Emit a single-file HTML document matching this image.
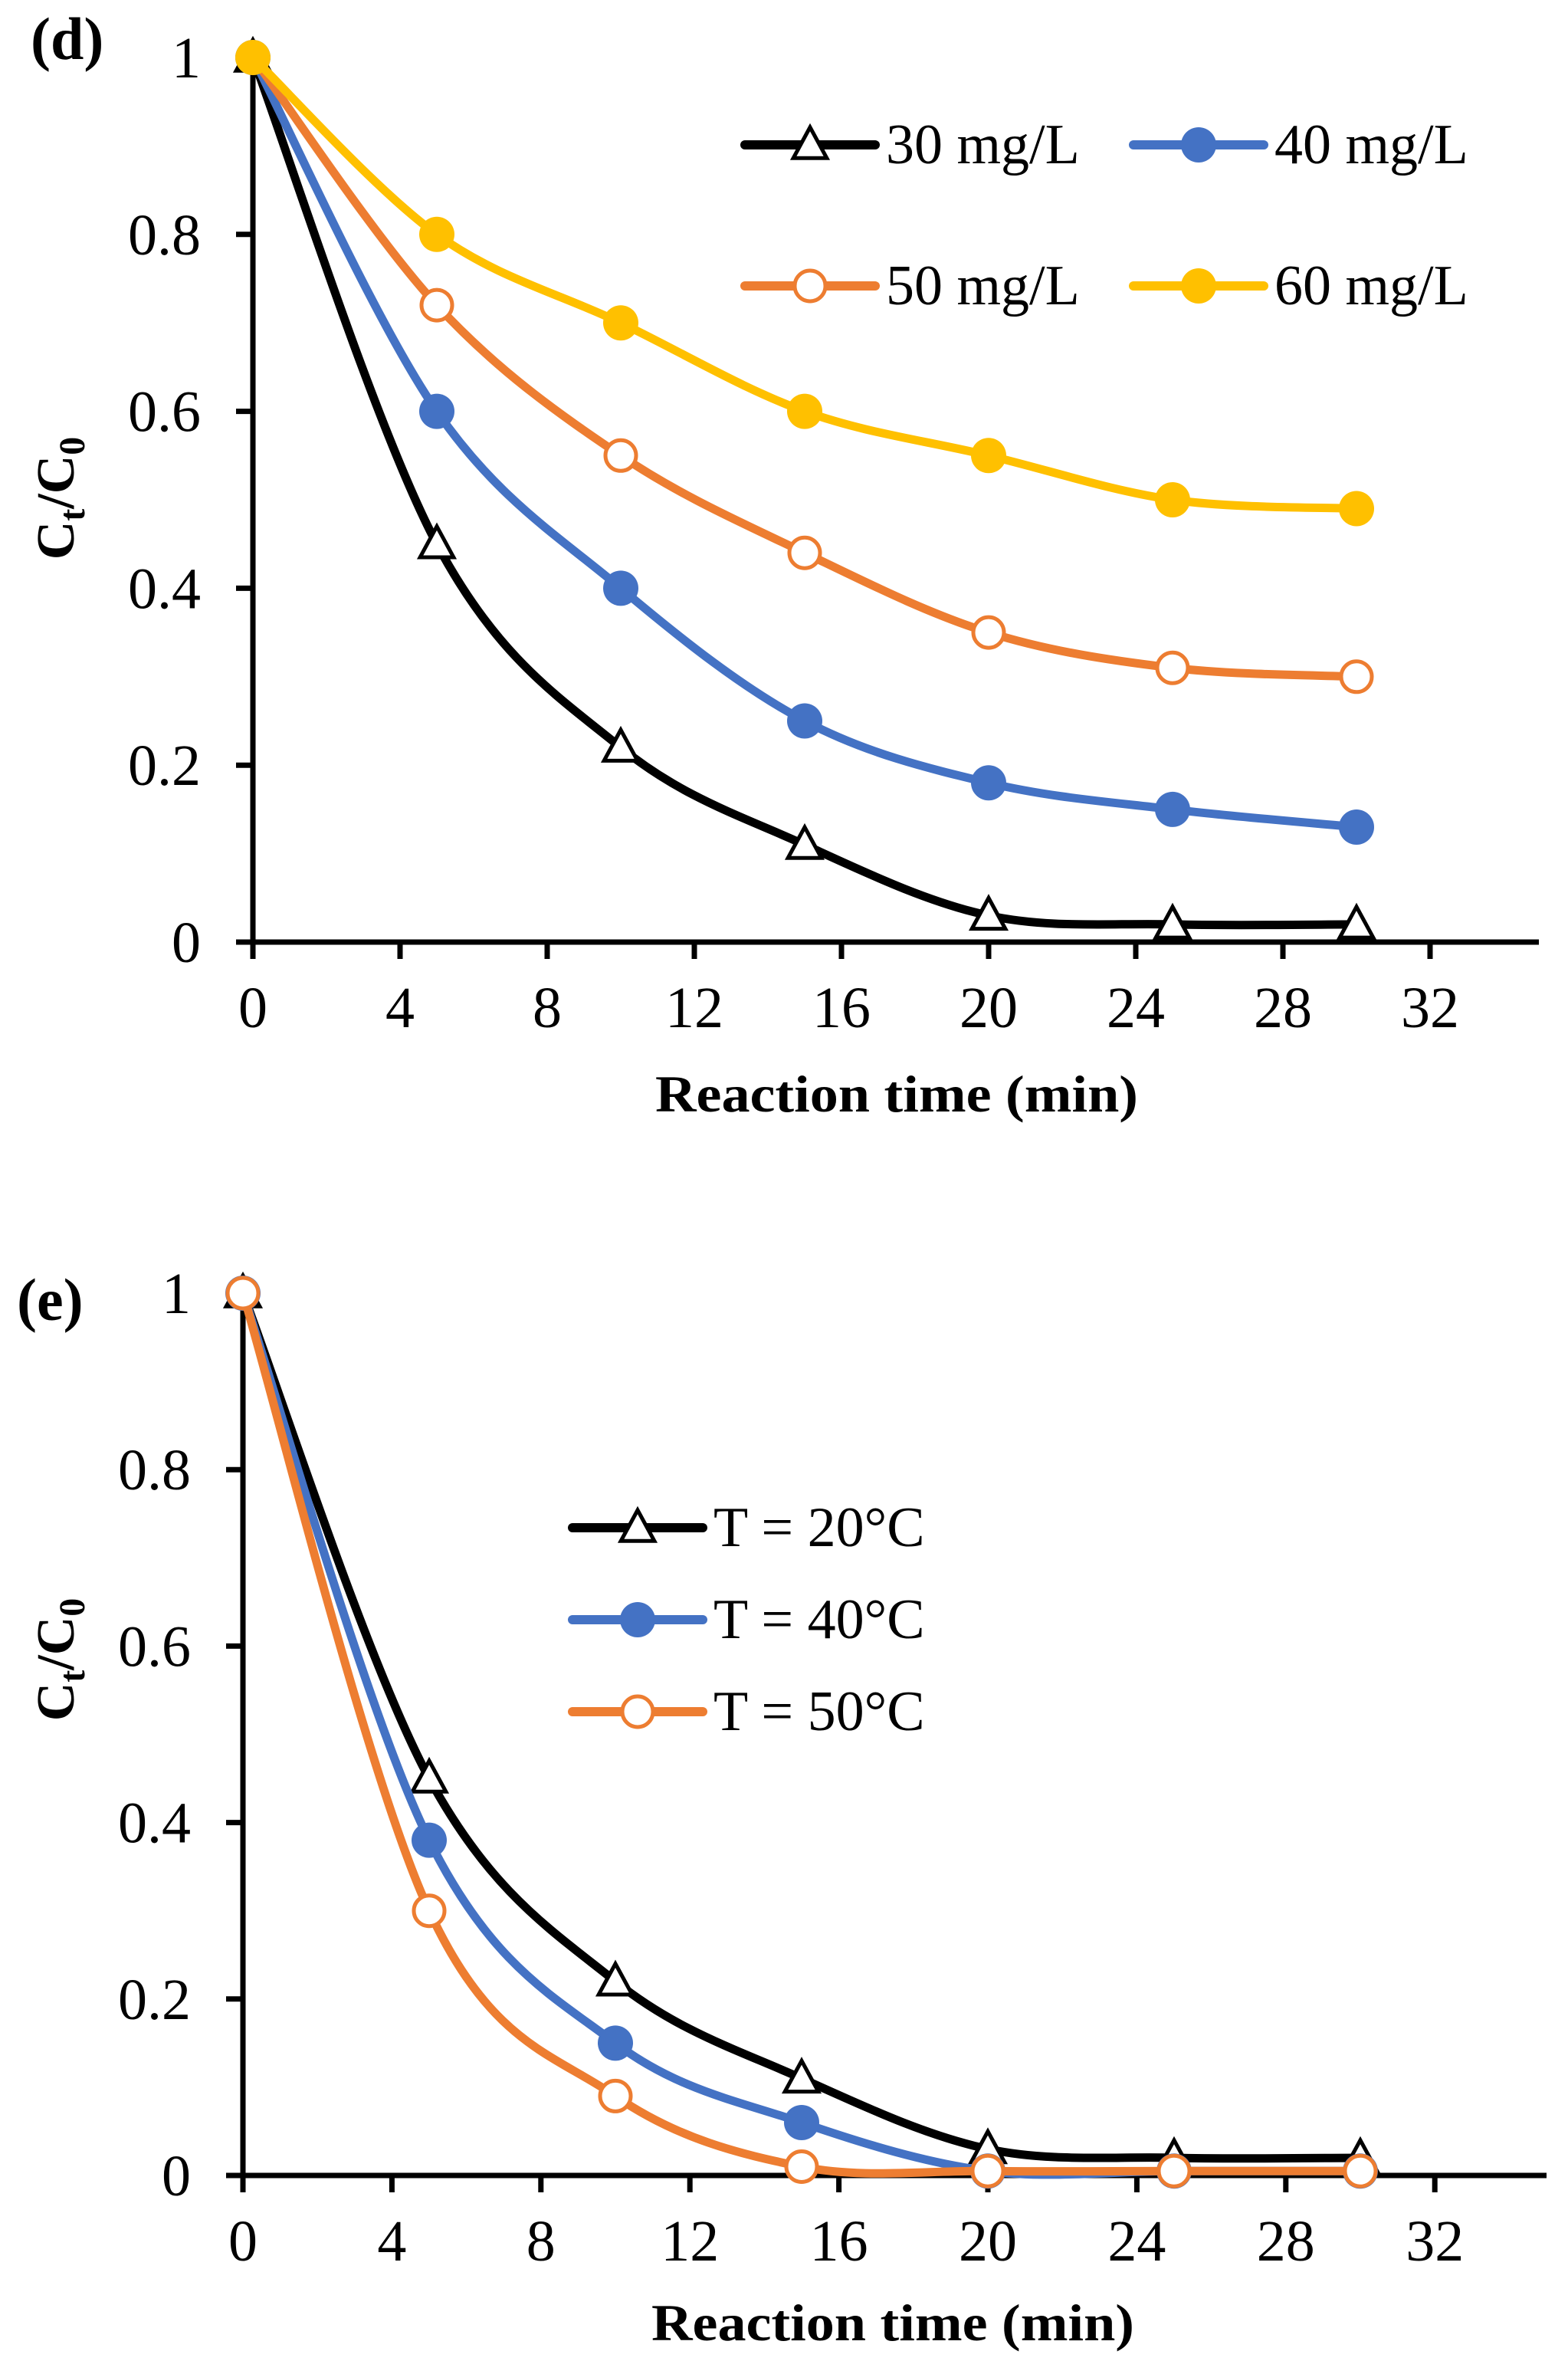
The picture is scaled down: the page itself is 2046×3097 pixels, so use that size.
<!DOCTYPE html>
<html><head><meta charset="utf-8"><style>
html,body{margin:0;padding:0;background:#fff;}
svg, svg text{font-family:"Liberation Serif","Times New Roman",Times,serif;}
</style></head><body>
<svg id="fig" width="2046" height="3092" viewBox="0 0 2046 3092" xmlns="http://www.w3.org/2000/svg" font-family="'Liberation Serif', 'Times New Roman', Times, serif">
<g id="chartD"></g>
<g id="chartE"></g>
</svg>
<script>
const times = [0, 5, 10, 15, 20, 25, 30];
const xTicks = [0, 4, 8, 12, 16, 20, 24, 28, 32];
const yTicks = [0, 0.2, 0.4, 0.6, 0.8, 1];
const yTickLabels = ["0", "0.2", "0.4", "0.6", "0.8", "1"];
const d30 = [1, 0.45, 0.22, 0.11, 0.03, 0.02, 0.02];
const d40 = [1, 0.60, 0.40, 0.25, 0.18, 0.15, 0.13];
const d50 = [1, 0.72, 0.55, 0.44, 0.35, 0.31, 0.30];
const d60 = [1, 0.80, 0.70, 0.60, 0.55, 0.50, 0.49];
const e20 = [1, 0.45, 0.22, 0.11, 0.03, 0.02, 0.02];
const e40 = [1, 0.38, 0.15, 0.06, 0.005, 0.005, 0.005];
const e50 = [1, 0.30, 0.09, 0.01, 0.005, 0.005, 0.005];
const dNames = ["30 mg/L", "40 mg/L", "50 mg/L", "60 mg/L"];
const eNames = ["T = 20°C", "T = 40°C", "T = 50°C"];

const NS = "http://www.w3.org/2000/svg";
const FONT = "'Liberation Serif', 'Times New Roman', Times, serif";
function mk(parent, tag, attrs, text) {
  const el = document.createElementNS(NS, tag);
  for (const k in attrs) el.setAttribute(k, attrs[k]);
  if (tag === "text") el.setAttribute("font-family", FONT);
  if (text !== undefined) el.textContent = text;
  parent.appendChild(el);
  return el;
}
function smoothPath(pts) {
  let d = "M" + pts[0][0] + "," + pts[0][1];
  for (let i = 0; i < pts.length - 1; i++) {
    const p0 = pts[Math.max(0, i - 1)], p1 = pts[i], p2 = pts[i + 1], p3 = pts[Math.min(pts.length - 1, i + 2)];
    const c1x = p1[0] + (p2[0] - p0[0]) / 6, c1y = p1[1] + (p2[1] - p0[1]) / 6;
    const c2x = p2[0] - (p3[0] - p1[0]) / 6, c2y = p2[1] - (p3[1] - p1[1]) / 6;
    d += " C" + c1x + "," + c1y + " " + c2x + "," + c2y + " " + p2[0] + "," + p2[1];
  }
  return d;
}
function marker(g, type, color, cx, cy) {
  let m;
  if (type === "tri") {
    const s = 23;
    m = mk(g, "polygon", {points: `${cx},${cy - s} ${cx - s * 0.95},${cy + s * 0.75} ${cx + s * 0.95},${cy + s * 0.75}`, fill: "#fff", stroke: "#000", "stroke-width": 5, "stroke-linejoin": "miter"});
  } else if (type === "open") {
    m = mk(g, "circle", {cx: cx, cy: cy, r: 20, fill: "#fff", stroke: color, "stroke-width": 5});
  } else {
    m = mk(g, "circle", {cx: cx, cy: cy, r: 23, fill: color});
  }
  return m;
}
function drawChart(g, cfg) {
  const X = v => cfg.x0 + v * cfg.xs;
  const Y = v => cfg.y0 - v * (cfg.y0 - cfg.y1);
  const ya = mk(g, "line", {x1: cfg.x0, y1: Y(1) - 3, x2: cfg.x0, y2: cfg.y0 + 3, stroke: "#000", "stroke-width": 7});
  
  
  const xa = mk(g, "line", {x1: cfg.x0 - 22, y1: cfg.y0, x2: cfg.xEnd, y2: cfg.y0, stroke: "#000", "stroke-width": 7});
  
  
  yTicks.forEach((t, i) => {
    mk(g, "line", {x1: cfg.x0 - 22, y1: Y(t), x2: cfg.x0, y2: Y(t), stroke: "#000", "stroke-width": 7});
    const tl = mk(g, "text", {x: cfg.x0 - 68, y: Y(t) + 26, "text-anchor": "end", "font-size": 76}, yTickLabels[i]);
    
    
  });
  xTicks.forEach(t => {
    mk(g, "line", {x1: X(t), y1: cfg.y0, x2: X(t), y2: cfg.y0 + 22, stroke: "#000", "stroke-width": 7});
    const tl = mk(g, "text", {x: X(t), y: cfg.y0 + 111, "text-anchor": "middle", "font-size": 76}, String(t));
    
    
  });
  const xt = mk(g, "text", {x: cfg.xTitleX, y: cfg.xTitleY, "text-anchor": "middle", "font-size": 68, "font-weight": "bold", textLength: 630, lengthAdjust: "spacingAndGlyphs"}, "Reaction time (min)");
  
  
  const yt = mk(g, "text", {x: 0, y: 0, "text-anchor": "middle", "font-size": 70, "font-weight": "bold", transform: `translate(96,${cfg.yTitleY}) rotate(-90)`});
  
  
  mk(yt, "tspan", {}, "C");
  mk(yt, "tspan", {"font-size": 48, dy: 14}, "t");
  mk(yt, "tspan", {dy: -14}, "/C");
  mk(yt, "tspan", {"font-size": 48, dy: 14}, "0");
  const pl = mk(g, "text", {x: cfg.panelX, y: cfg.panelY, "font-size": 78, "font-weight": "bold"}, cfg.panel);
  
  
  cfg.series.forEach((s, si) => {
    const sg = mk(g, "g", {});
    
    
    const pts = times.map((t, i) => [X(t), Y(s.values[i])]);
    const p = mk(sg, "path", {d: smoothPath(pts), fill: "none", stroke: s.color, "stroke-width": 11, "stroke-linecap": "round"});
    
    
    pts.forEach(pt => {
      const m = marker(sg, s.type, s.color, pt[0], pt[1]);
      
      
    });
    const L = cfg.legend[si];
    const lg = mk(g, "g", {});
    
    
    mk(lg, "line", {x1: L[0], y1: L[1], x2: L[0] + 170, y2: L[1], stroke: s.color, "stroke-width": 12, "stroke-linecap": "round"});
    marker(lg, s.type, s.color, L[0] + 85, L[1]);
    mk(lg, "text", {x: L[0] + 184, y: L[1] + 24, "font-size": 74}, s.name);
  });
}
drawChart(document.getElementById("chartD"), {
  x0: 330, xs: 48, y0: 1229, y1: 75, xEnd: 2008,
  xTitleX: 1170, xTitleY: 1450, yTitleY: 650,
  panel: "(d)", panelX: 40, panelY: 77,
  legend: [[972, 189], [1479, 189], [972, 373], [1479, 373]],
  series: [
    {key: "30mgL", name: dNames[0], values: d30, color: "#000000", type: "tri"},
    {key: "40mgL", name: dNames[1], values: d40, color: "#4472C4", type: "fill"},
    {key: "50mgL", name: dNames[2], values: d50, color: "#ED7D31", type: "open"},
    {key: "60mgL", name: dNames[3], values: d60, color: "#FFC000", type: "fill"}
  ]
});
drawChart(document.getElementById("chartE"), {
  x0: 317, xs: 48.6, y0: 2838, y1: 1687, xEnd: 2018,
  xTitleX: 1165, xTitleY: 3053, yTitleY: 2165,
  panel: "(e)", panelX: 22, panelY: 1722,
  legend: [[747, 1993], [747, 2113], [747, 2233]],
  series: [
    {key: "20C", name: eNames[0], values: e20, color: "#000000", type: "tri"},
    {key: "40C", name: eNames[1], values: e40, color: "#4472C4", type: "fill"},
    {key: "50C", name: eNames[2], values: e50, color: "#ED7D31", type: "open"}
  ]
});
</script>
</body></html>
